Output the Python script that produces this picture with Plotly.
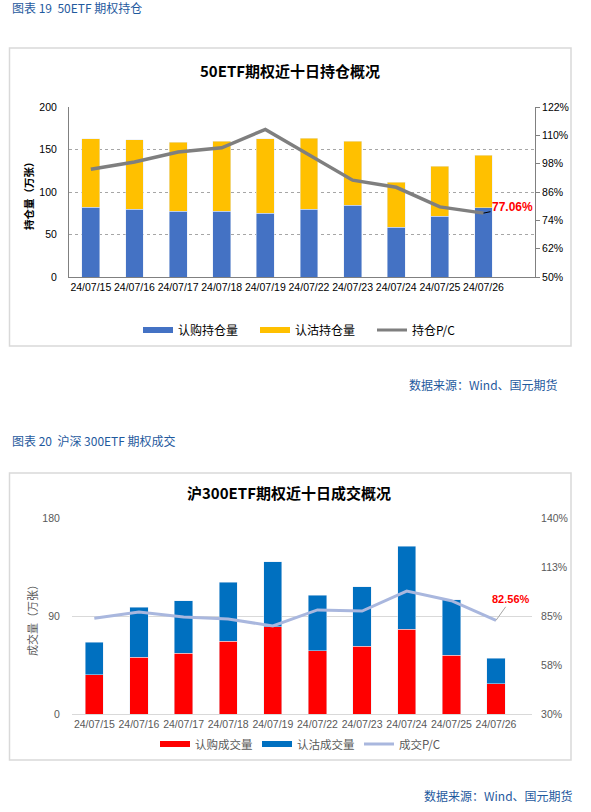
import plotly.graph_objects as go

W, H = 591, 812

dates = ["24/07/15", "24/07/16", "24/07/17", "24/07/18", "24/07/19",
         "24/07/22", "24/07/23", "24/07/24", "24/07/25", "24/07/26"]

# Chart 1: 50ETF open interest (万张) and P/C (%)
call_oi = [82.2, 79.8, 77.5, 77.5, 75.1, 80.0, 84.5, 58.6, 71.6, 81.4]
put_oi = [80.2, 81.4, 81.3, 82.5, 87.3, 83.5, 75.5, 53.0, 58.9, 62.1]
pc_oi = [95.6, 98.7, 102.9, 104.7, 112.5, 101.6, 91.0, 88.0, 79.7, 77.06]

# Chart 2: 沪300ETF volume (万张) and P/C (%)
call_vol = [36, 52, 56, 67, 80, 58, 62, 78, 54, 28]
put_vol = [30, 46, 48, 54, 60, 51, 55, 76, 51, 23]
pc_vol = [83.7, 87.2, 84.4, 83.3, 79.4, 88.4, 87.8, 99.0, 93.6, 82.56]

left1_ticks = [0, 50, 100, 150, 200]
right1_ticks = [50, 62, 74, 86, 98, 110, 122]
right1_labels = ["50%", "62%", "74%", "86%", "98%", "110%", "122%"]
left2_ticks = [0, 90, 180]
right2_ticks = [30, 57.5, 85, 112.5, 140]
right2_labels = ["30%", "58%", "85%", "113%", "140%"]


def px_x(v):
    return v / W


def px_y(v):
    return 1 - v / H


BLUE_TXT = "#1F5A9E"
FONT = "Liberation Sans, Noto Sans CJK SC, sans-serif"
CJK = "Noto Sans CJK SC, sans-serif"

fig = go.Figure()

# ---- chart 1 ----
fig.add_trace(go.Bar(x=dates, y=call_oi, marker_color="#4472C4", name="认购持仓量",
                     xaxis="x", yaxis="y", showlegend=False))
fig.add_trace(go.Bar(x=dates, y=put_oi, marker_color="#FFC000", name="认沽持仓量",
                     xaxis="x", yaxis="y", showlegend=False))
fig.add_trace(go.Scatter(x=dates, y=pc_oi, mode="lines", name="持仓P/C",
                         line=dict(color="#7F7F7F", width=3.5),
                         xaxis="x", yaxis="y2", showlegend=False))
# legend entries
fig.add_trace(go.Scatter(x=[None], y=[None], mode="lines", name="认购持仓量",
                         line=dict(color="#4472C4", width=6), legend="legend"))
fig.add_trace(go.Scatter(x=[None], y=[None], mode="lines", name="认沽持仓量",
                         line=dict(color="#FFC000", width=6), legend="legend"))
fig.add_trace(go.Scatter(x=[None], y=[None], mode="lines", name="持仓P/C",
                         line=dict(color="#7F7F7F", width=3), legend="legend"))

# ---- chart 2 ----
fig.add_trace(go.Bar(x=dates, y=call_vol, marker_color="#FF0000", name="认购成交量",
                     xaxis="x2", yaxis="y3", showlegend=False))
fig.add_trace(go.Bar(x=dates, y=put_vol, marker_color="#0070C0", name="认沽成交量",
                     xaxis="x2", yaxis="y3", showlegend=False))
fig.add_trace(go.Scatter(x=dates, y=pc_vol, mode="lines", name="成交P/C",
                         line=dict(color="#A9B7DE", width=3),
                         xaxis="x2", yaxis="y4", showlegend=False))
fig.add_trace(go.Scatter(x=[None], y=[None], mode="lines", name="认购成交量",
                         line=dict(color="#FF0000", width=6), legend="legend2"))
fig.add_trace(go.Scatter(x=[None], y=[None], mode="lines", name="认沽成交量",
                         line=dict(color="#0070C0", width=6), legend="legend2"))
fig.add_trace(go.Scatter(x=[None], y=[None], mode="lines", name="成交P/C",
                         line=dict(color="#A9B7DE", width=3), legend="legend2"))

tickfont1 = dict(family=FONT, size=10.5, color="#000000")
tickfont2 = dict(family=FONT, size=10.5, color="#595959")

fig.update_layout(
    width=W, height=H,
    margin=dict(l=0, r=0, t=0, b=0),
    paper_bgcolor="white", plot_bgcolor="white",
    barmode="stack", bargap=0.59,
    font=dict(family=CJK),
    xaxis=dict(domain=[px_x(69), px_x(535)], anchor="y", type="category",
               showline=True, linecolor="#808080", linewidth=1,
               ticks="", tickangle=0, tickfont=tickfont1, showgrid=False,
               automargin=False),
    yaxis=dict(domain=[px_y(277), px_y(107)], anchor="x", range=[0, 200],
               tickvals=left1_ticks, showline=True, linecolor="#808080",
               ticks="outside", ticklen=9, tickcolor="rgba(0,0,0,0)",
               showgrid=True, gridcolor="#A6A6A6", griddash="3px,3px",
               zeroline=False, tickfont=tickfont1, automargin=False),
    yaxis2=dict(overlaying="y", side="right", anchor="x", range=[50, 122],
                tickvals=right1_ticks, ticktext=right1_labels, showgrid=False,
                showline=True, linecolor="#808080", ticks="outside", ticklen=4,
                tickcolor="#808080", zeroline=False, tickfont=tickfont1,
                automargin=False),
    xaxis2=dict(domain=[px_x(72), px_x(532)], anchor="y3", type="category",
                showline=True, linecolor="#D9D9D9", linewidth=1,
                ticks="", tickangle=0, tickfont=tickfont2, showgrid=False,
                automargin=False),
    yaxis3=dict(domain=[px_y(714), px_y(518)], anchor="x2", range=[0, 180],
                tickvals=left2_ticks, showline=False,
                ticks="outside", ticklen=9, tickcolor="rgba(0,0,0,0)",
                showgrid=True, gridcolor="#D9D9D9", zeroline=False,
                tickfont=tickfont2, automargin=False),
    yaxis4=dict(overlaying="y3", side="right", anchor="x2", range=[30, 140],
                tickvals=right2_ticks, ticktext=right2_labels, showgrid=False,
                showline=False, ticks="outside", ticklen=6,
                tickcolor="rgba(0,0,0,0)", zeroline=False, tickfont=tickfont2,
                automargin=False),
    legend=dict(orientation="h", x=px_x(138), y=px_y(330), xanchor="left",
                yanchor="middle", entrywidth=72, entrywidthmode="pixels",
                traceorder="normal",
                font=dict(family=CJK, size=12, color="#000000"),
                bgcolor="rgba(0,0,0,0)", itemwidth=30),
    legend2=dict(orientation="h", x=px_x(155), y=px_y(744), xanchor="left",
                 yanchor="middle", entrywidth=57, entrywidthmode="pixels",
                 traceorder="normal",
                 font=dict(family=CJK, size=11.5, color="#595959"),
                 bgcolor="rgba(0,0,0,0)", itemwidth=30),
    shapes=[
        dict(type="rect", xref="paper", yref="paper",
             x0=px_x(9.5), x1=px_x(571), y0=px_y(346), y1=px_y(48),
             line=dict(color="#D9D9D9", width=1.5), fillcolor="rgba(0,0,0,0)",
             layer="below"),
        dict(type="rect", xref="paper", yref="paper",
             x0=px_x(9.5), x1=px_x(571), y0=px_y(760), y1=px_y(473),
             line=dict(color="#D9D9D9", width=1.5), fillcolor="rgba(0,0,0,0)",
             layer="below"),
    ],
    annotations=[
        dict(text="图表 19  50ETF 期权持仓", xref="paper", yref="paper",
             x=px_x(10), y=px_y(7.5), xanchor="left", yanchor="middle",
             showarrow=False, font=dict(family=CJK, size=12, color=BLUE_TXT)),
        dict(text="<b>50ETF期权近十日持仓概况</b>", xref="paper", yref="paper",
             x=px_x(290), y=px_y(70), xanchor="center", yanchor="middle",
             showarrow=False, font=dict(family=CJK, size=15, color="#000000")),
        dict(text="<b>持仓量（万张）</b>", xref="paper", yref="paper",
             x=px_x(29), y=px_y(193), xanchor="center", yanchor="middle",
             textangle=-90, showarrow=False,
             font=dict(family=CJK, size=10.5, color="#000000")),
        dict(text="<b>77.06%</b>", xref="x", yref="y2", x=dates[-1], y=pc_oi[-1],
             ax=29, ay=-6, showarrow=True, arrowhead=0, arrowwidth=1,
             arrowcolor="#000000",
             font=dict(family=FONT, size=12, color="#FF0000")),
        dict(text="数据来源：Wind、国元期货", xref="paper", yref="paper",
             x=px_x(560), y=px_y(384), xanchor="right", yanchor="middle",
             showarrow=False, font=dict(family=CJK, size=12, color=BLUE_TXT)),
        dict(text="图表 20  沪深 300ETF 期权成交", xref="paper", yref="paper",
             x=px_x(10), y=px_y(440), xanchor="left", yanchor="middle",
             showarrow=False, font=dict(family=CJK, size=12, color=BLUE_TXT)),
        dict(text="<b>沪300ETF期权近十日成交概况</b>", xref="paper", yref="paper",
             x=px_x(289), y=px_y(493), xanchor="center", yanchor="middle",
             showarrow=False, font=dict(family=CJK, size=15, color="#000000")),
        dict(text="成交量（万张）", xref="paper", yref="paper",
             x=px_x(32), y=px_y(618), xanchor="center", yanchor="middle",
             textangle=-90, showarrow=False,
             font=dict(family=CJK, size=11, color="#595959")),
        dict(text="<b>82.56%</b>", xref="x2", yref="y4", x=dates[-1], y=pc_vol[-1],
             ax=15, ay=-21, showarrow=True, arrowhead=0, arrowwidth=1,
             arrowcolor="#A6A6A6",
             font=dict(family=FONT, size=11, color="#FF0000")),
        dict(text="数据来源：Wind、国元期货", xref="paper", yref="paper",
             x=px_x(575), y=px_y(795), xanchor="right", yanchor="middle",
             showarrow=False, font=dict(family=CJK, size=12, color=BLUE_TXT)),
    ],
)

fig.write_html("out.html",
               config={"displayModeBar": False},
               post_script="document.body.style.margin='0';"
                           "document.body.style.overflow='hidden';")
